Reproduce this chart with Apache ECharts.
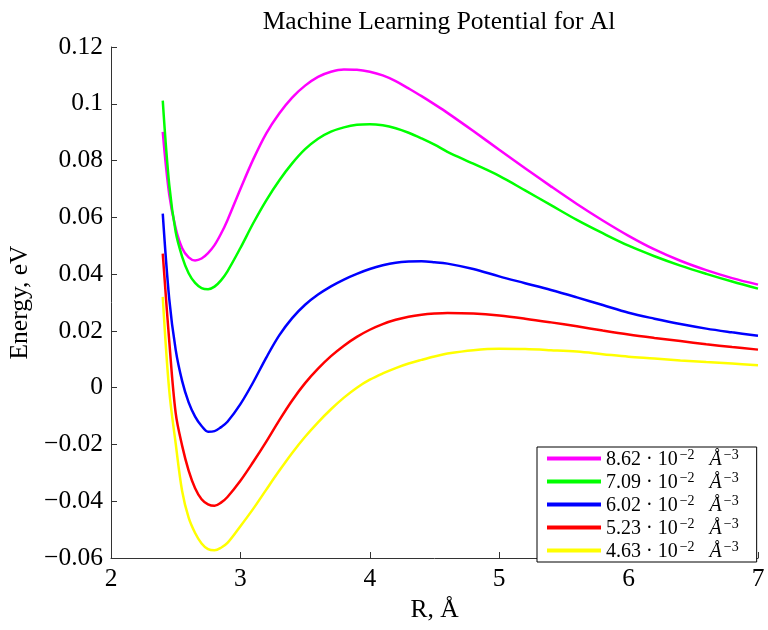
<!DOCTYPE html>
<html>
<head>
<meta charset="utf-8">
<script src="https://cdn.jsdelivr.net/npm/echarts@6/dist/echarts.min.js"></script>
<style>html,body{margin:0;padding:0;background:#fff}#c{width:768px;height:630px}</style>
</head>
<body>
<div id="c"></div>
<script>
var R = [2.4, 2.45, 2.5, 2.55, 2.6, 2.65, 2.7, 2.75, 2.8, 2.85, 2.9, 3.0, 3.1, 3.2, 3.3, 3.4, 3.5, 3.6, 3.7, 3.8, 3.9, 4.0, 4.1, 4.2, 4.3, 4.4, 4.5, 4.6, 4.8, 5.0, 5.2, 5.4, 5.6, 5.8, 6.0, 6.2, 6.4, 6.6, 6.8, 7.0];
var E862 = [0.0901, 0.0680, 0.0561, 0.0491, 0.0459, 0.0448, 0.0455, 0.0474, 0.0502, 0.0542, 0.0590, 0.0700, 0.0805, 0.0896, 0.0966, 0.1022, 0.1064, 0.1095, 0.1113, 0.1121, 0.1120, 0.1113, 0.1100, 0.1080, 0.1054, 0.1027, 0.0998, 0.0968, 0.0904, 0.0838, 0.0773, 0.0709, 0.0647, 0.0589, 0.0535, 0.0487, 0.0447, 0.0414, 0.0386, 0.0363];
var E709 = [0.1011, 0.0715, 0.0548, 0.0461, 0.0403, 0.0369, 0.0351, 0.0347, 0.0356, 0.0378, 0.0410, 0.0492, 0.0580, 0.0660, 0.0730, 0.0790, 0.0840, 0.0877, 0.0902, 0.0917, 0.0926, 0.0928, 0.0924, 0.0914, 0.0898, 0.0878, 0.0856, 0.0831, 0.0789, 0.0746, 0.0695, 0.0643, 0.0591, 0.0544, 0.0500, 0.0463, 0.0430, 0.0401, 0.0374, 0.0349];
var E602 = [0.0613, 0.0313, 0.0133, 0.0023, -0.0052, -0.0102, -0.0135, -0.0155, -0.0153, -0.0139, -0.0120, -0.0058, 0.0020, 0.0106, 0.0184, 0.0245, 0.0292, 0.0328, 0.0357, 0.0381, 0.0401, 0.0418, 0.0431, 0.0440, 0.0444, 0.0445, 0.0442, 0.0437, 0.0418, 0.0392, 0.0368, 0.0344, 0.0318, 0.0291, 0.0264, 0.0243, 0.0224, 0.0208, 0.0195, 0.0183];
var E523 = [0.0472, 0.0165, -0.0090, -0.0205, -0.0292, -0.0354, -0.0393, -0.0411, -0.0416, -0.0405, -0.0385, -0.0328, -0.0261, -0.0190, -0.0115, -0.0045, 0.0016, 0.0067, 0.0111, 0.0148, 0.0179, 0.0204, 0.0224, 0.0239, 0.0250, 0.0257, 0.0261, 0.0263, 0.0261, 0.0254, 0.0243, 0.0230, 0.0216, 0.0201, 0.0187, 0.0175, 0.0164, 0.0153, 0.0143, 0.0134];
var E463 = [0.0320, -0.0010, -0.0197, -0.0365, -0.0458, -0.0512, -0.0549, -0.0569, -0.0573, -0.0564, -0.0547, -0.0488, -0.0426, -0.0359, -0.0293, -0.0230, -0.0173, -0.0122, -0.0076, -0.0035, 0.0000, 0.0028, 0.0050, 0.0069, 0.0085, 0.0098, 0.0110, 0.0120, 0.0132, 0.0137, 0.0136, 0.0132, 0.0127, 0.0118, 0.0109, 0.0103, 0.0096, 0.0090, 0.0085, 0.0079];
var densities = ['8.62', '7.09', '6.02', '5.23', '4.63'];
var colors = ['#ff00ff', '#00ff00', '#0000ff', '#ff0000', '#ffff00'];
var values = [E862, E709, E602, E523, E463];

var serif = '"Liberation Serif", "DejaVu Serif", serif';
var series = densities.map(function (d, i) {
  return {
    name: d,
    type: 'line',
    smooth: 0.35,
    showSymbol: false,
    data: R.map(function (r, j) { return [r, values[i][j]]; }),
    lineStyle: { color: colors[i], width: 2.5 },
    itemStyle: { color: colors[i] }
  };
});

var chart = echarts.init(document.getElementById('c'));
chart.setOption({
  animation: false,
  backgroundColor: '#fff',
  title: {
    text: 'Machine Learning Potential for Al',
    left: 434, top: 4, textAlign: 'center',
    textStyle: { fontFamily: serif, fontSize: 25.5, fontWeight: 'normal', color: '#000' }
  },
  grid: { left: 111, right: 10, top: 47, bottom: 72, containLabel: false, outerBoundsMode: 'none' },
  legend: {
    orient: 'vertical',
    left: 537, top: 447,
    backgroundColor: '#fff',
    borderColor: '#000', borderWidth: 1,
    padding: [0, 18, 0, 10],
    itemWidth: 54, itemHeight: 4, itemGap: 0,
    icon: 'rect',
    data: densities,
    formatter: function (n) { return '{n|' + n + ' · 10}{s|−2}{n|   }{a|Å}{s|−3}'; },
    textStyle: {
      fontFamily: serif, fontSize: 20, color: '#000', lineHeight: 20.5,
      rich: {
        n: { fontFamily: serif, fontSize: 20, color: '#000', lineHeight: 20.5, padding: [3, 0, 0, 0] },
        a: { fontFamily: serif, fontSize: 20, fontStyle: 'italic', color: '#000', lineHeight: 20.5, padding: [3, 0, 0, 0] },
        s: { fontFamily: serif, fontSize: 14, color: '#000', lineHeight: 20.5, verticalAlign: 'top', padding: [0, 0, 6, 2] }
      }
    }
  },
  xAxis: {
    type: 'value', min: 2, max: 7, interval: 1,
    name: 'R, Å', nameLocation: 'middle', nameGap: 37,
    nameTextStyle: { fontFamily: serif, fontSize: 25.5, color: '#000' },
    axisLine: { onZero: false, lineStyle: { color: '#333', width: 1 } },
    axisTick: { inside: true, length: 6, lineStyle: { color: '#333' } },
    splitLine: { show: false },
    axisLabel: { fontFamily: serif, fontSize: 25.5, color: '#000', margin: 8 }
  },
  yAxis: {
    type: 'value', min: -0.06, max: 0.12, interval: 0.02,
    name: 'Energy, eV', nameLocation: 'middle', nameGap: 76, nameRotate: 90,
    nameTextStyle: { fontFamily: serif, fontSize: 25.5, color: '#000' },
    axisLine: { show: true, onZero: false, lineStyle: { color: '#333', width: 1 } },
    axisTick: { show: true, inside: true, length: 6, lineStyle: { color: '#333' } },
    splitLine: { show: false },
    axisLabel: {
      fontFamily: serif, fontSize: 25.5, color: '#000', margin: 8,
      formatter: function (v) {
        var s = String(parseFloat(v.toFixed(2)));
        return s.replace('-', '−');
      }
    }
  },
  series: series
});
</script>
</body>
</html>
